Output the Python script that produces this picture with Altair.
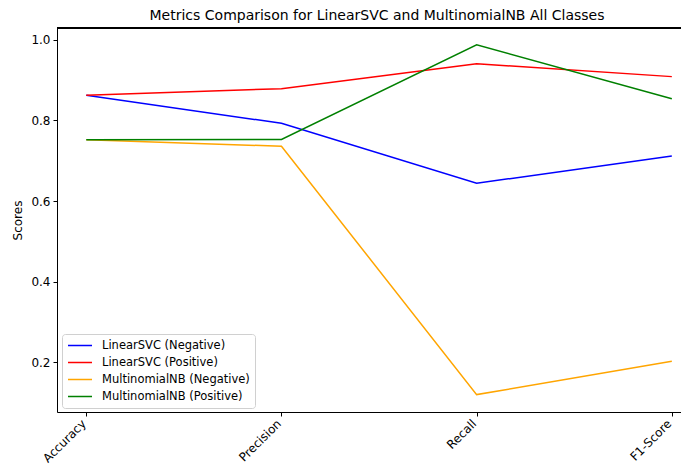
import altair as alt
import pandas as pd

metrics = ["Accuracy", "Precision", "Recall", "F1-Score"]
series_names = ["LinearSVC (Negative)", "LinearSVC (Positive)",
                "MultinomialNB (Negative)", "MultinomialNB (Positive)"]
svc_neg = [0.863, 0.793, 0.644, 0.712]
svc_pos = [0.863, 0.879, 0.941, 0.909]
nb_neg = [0.752, 0.736, 0.119, 0.202]
nb_pos = [0.752, 0.753, 0.988, 0.854]
colors = ["#0000ff", "#ff0000", "#ffa500", "#008000"]

rows = []
for name, vals in zip(series_names, [svc_neg, svc_pos, nb_neg, nb_pos]):
    for i, (m, v) in enumerate(zip(metrics, vals)):
        rows.append({"series": name, "idx": i, "metric": m, "score": v})
df = pd.DataFrame(rows)

W, H = 624, 384
font = "DejaVu Sans"

label_expr = "[" + ",".join(f"'{m}'" for m in metrics) + "][datum.value]"

lines = alt.Chart(df).mark_line(strokeWidth=1.5).encode(
    x=alt.X("idx:Q",
            scale=alt.Scale(domain=[-0.15, 3.047], nice=False, zero=False),
            axis=alt.Axis(values=[0, 1, 2, 3], labelExpr=label_expr, title=None,
                          grid=False, labelAngle=-45, labelAlign="right",
                          labelBaseline="alphabetic", tickSize=4, labelPadding=8,
                          domainColor="black", tickColor="black",
                          labelColor="black", labelFontSize=12, labelFont=font)),
    y=alt.Y("score:Q",
            scale=alt.Scale(domain=[0.0758, 1.0298], nice=False, zero=False),
            axis=alt.Axis(values=[0.2, 0.4, 0.6, 0.8, 1.0], format=".1f",
                          title="Scores", grid=False, tickSize=4, labelPadding=3,
                          titlePadding=6, titleFontWeight="normal",
                          titleFontSize=12, titleFont=font, titleColor="black",
                          domainColor="black", tickColor="black",
                          labelColor="black", labelFontSize=12, labelFont=font)),
    color=alt.Color("series:N",
                    scale=alt.Scale(domain=series_names, range=colors),
                    legend=alt.Legend(title=None, orient="none", legendX=5, legendY=306,
                                      symbolType="stroke", symbolSize=576,
                                      symbolStrokeWidth=1.5, clipHeight=13,
                                      rowPadding=4, labelFontSize=11.5,
                                      labelFont=font, labelColor="black",
                                      fillColor="white", strokeColor="#d0d0d0",
                                      cornerRadius=3, padding=5,
                                      labelOffset=9)),
    detail="series:N",
)

top_rule = alt.Chart(df).mark_rule(color="black", strokeWidth=1).encode(
    x=alt.value(0), x2=alt.value(W), y=alt.value(0)
)

chart = alt.layer(lines, top_rule).properties(
    width=W, height=H,
    title=alt.Title("Metrics Comparison for LinearSVC and MultinomialNB All Classes",
                    fontSize=14, fontWeight="normal", font=font, color="black",
                    anchor="middle", offset=5, dx=8),
    autosize=alt.AutoSizeParams(type="none"),
    padding={"left": 49, "top": 20, "right": 0, "bottom": 52},
).configure_view(stroke=None).configure(background="white")

chart.save("out.html", embed_options={"renderer": "svg", "actions": False})
